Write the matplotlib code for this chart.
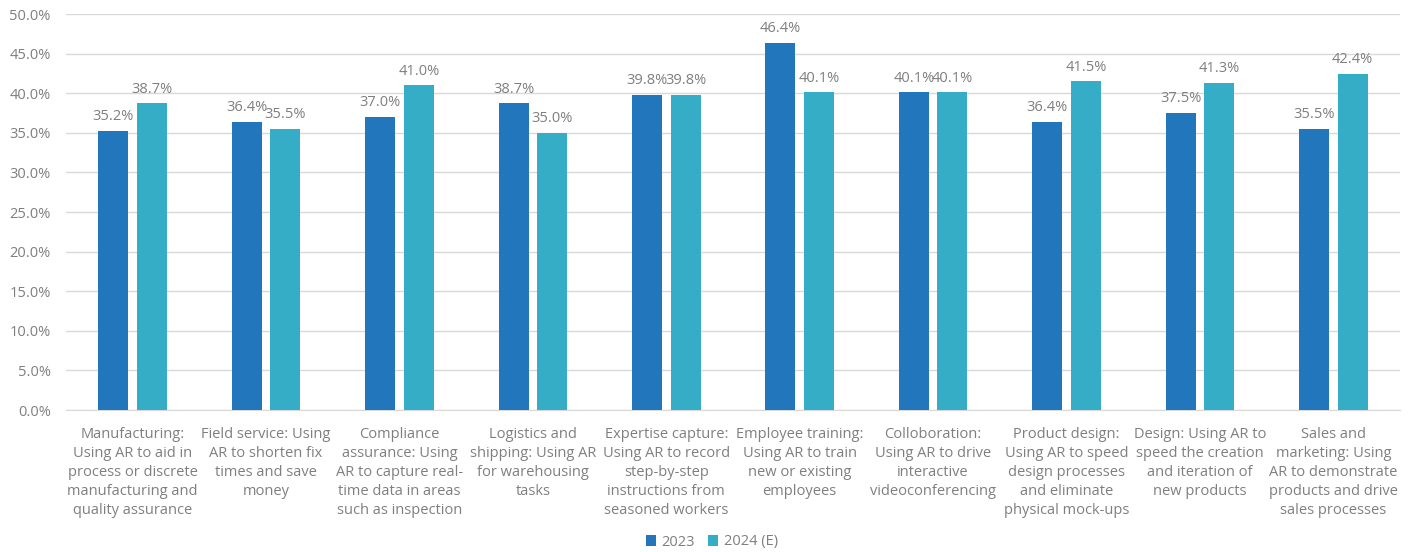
import matplotlib
matplotlib.use("Agg")
import matplotlib.pyplot as plt
import numpy as np
from matplotlib.ticker import FuncFormatter, MultipleLocator

plt.rcParams['font.family'] = ['Open Sans', 'DejaVu Sans']

categories = [
    "Manufacturing:\nUsing AR to aid in\nprocess or discrete\nmanufacturing and\nquality assurance",
    "Field service: Using\nAR to shorten fix\ntimes and save\nmoney",
    "Compliance\nassurance: Using\nAR to capture real-\ntime data in areas\nsuch as inspection",
    "Logistics and\nshipping: Using AR\nfor warehousing\ntasks",
    "Expertise capture:\nUsing AR to record\nstep-by-step\ninstructions from\nseasoned workers",
    "Employee training:\nUsing AR to train\nnew or existing\nemployees",
    "Colloboration:\nUsing AR to drive\ninteractive\nvideoconferencing",
    "Product design:\nUsing AR to speed\ndesign processes\nand eliminate\nphysical mock-ups",
    "Design: Using AR to\nspeed the creation\nand iteration of\nnew products",
    "Sales and\nmarketing: Using\nAR to demonstrate\nproducts and drive\nsales processes",
]
series_names = ["2023", "2024 (E)"]
values_2023 = [35.2, 36.4, 37.0, 38.7, 39.8, 46.4, 40.1, 36.4, 37.5, 35.5]
values_2024 = [38.7, 35.5, 41.0, 35.0, 39.8, 40.1, 40.1, 41.5, 41.3, 42.4]

c1 = "#2277BC"
c2 = "#35ADC7"
txt = "#7F7F7F"

fig = plt.figure(figsize=(14.11, 5.52), dpi=100)
ax = fig.add_axes([66/1411, 1 - 410/552, (1400-66)/1411, (410-14)/552])

x = np.arange(len(categories))
w = 0.225
off = 0.145
b1 = ax.bar(x - off, values_2023, w, color=c1, label=series_names[0], zorder=3)
b2 = ax.bar(x + off, values_2024, w, color=c2, label=series_names[1], zorder=3)

for bars, vals in ((b1, values_2023), (b2, values_2024)):
    for r, v in zip(bars, vals):
        ax.text(r.get_x() + r.get_width()/2, v + 0.85, f"{v:.1f}%", ha="center", va="bottom",
                fontsize=10.5, color=txt)

ax.set_xlim(-0.5, len(categories) - 0.5)
ax.set_ylim(0, 50)
ax.yaxis.set_major_locator(MultipleLocator(5))
ax.yaxis.set_major_formatter(FuncFormatter(lambda v, p: f"{v:.1f}%"))
ax.grid(axis="y", color="#D9D9D9", linewidth=1, zorder=0)
for s in ["top", "right", "left"]:
    ax.spines[s].set_visible(False)
ax.spines["bottom"].set_color("#D9D9D9")
ax.set_xticks(x)
ax.set_xticklabels(categories, fontsize=10.5, color=txt, linespacing=1.38)
ax.tick_params(axis="x", length=0, pad=12)
ax.tick_params(axis="y", length=0, labelsize=10.5, labelcolor=txt, pad=11)

fig.legend(handles=[b1, b2], labels=series_names, loc="center", bbox_to_anchor=(712/1411, 1 - 542/552),
           ncol=2, frameon=False, fontsize=10.5, labelcolor=txt, handlelength=0.7, handleheight=0.7,
           columnspacing=0.9, handletextpad=0.4)

fig.savefig("out.png", dpi=100)
